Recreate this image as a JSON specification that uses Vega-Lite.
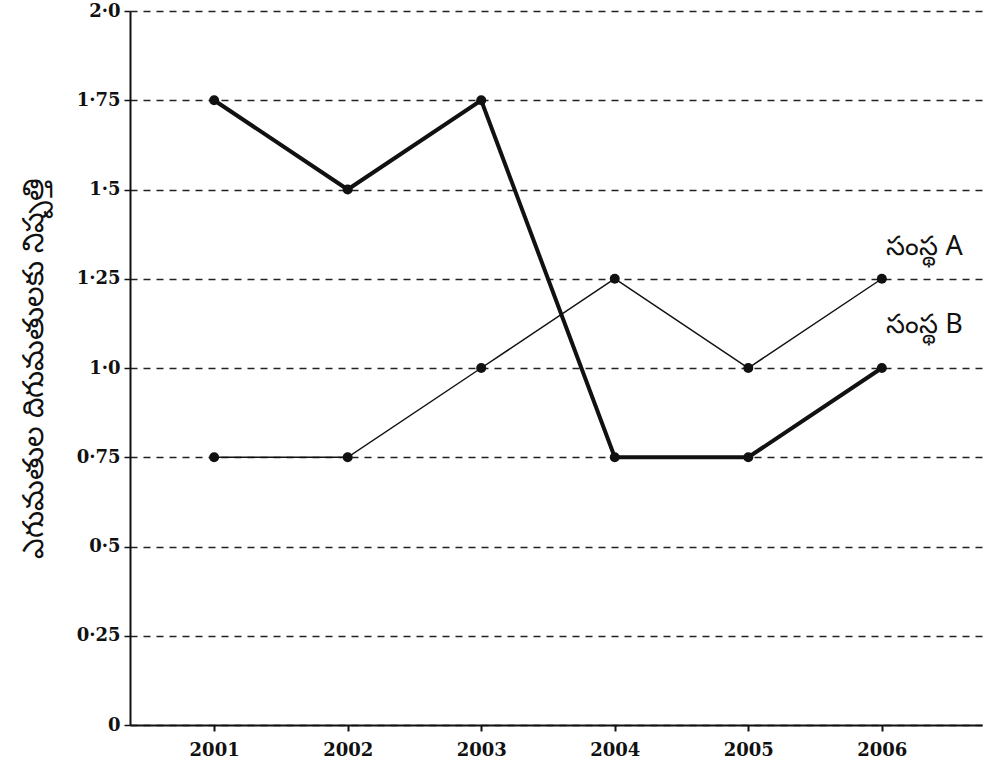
{
  "$schema": "https://vega.github.io/schema/vega-lite/v6.json",
  "width": 852,
  "height": 714,
  "autosize": "none",
  "padding": {"left": 130, "top": 11, "right": 8, "bottom": 55},
  "background": "white",
  "config": {
    "view": {"stroke": null},
    "axis": {"labelFont": "DejaVu Serif", "titleFont": "Noto Sans", "labelColor": "#111", "domainColor": "#111", "tickColor": "#111"}
  },
  "datasets": {
    "series": [
      {"series": "B", "year": 2001, "value": 1.75},
      {"series": "B", "year": 2002, "value": 1.5},
      {"series": "B", "year": 2003, "value": 1.75},
      {"series": "B", "year": 2004, "value": 0.75},
      {"series": "B", "year": 2005, "value": 0.75},
      {"series": "B", "year": 2006, "value": 1.0},
      {"series": "A", "year": 2001, "value": 0.75},
      {"series": "A", "year": 2002, "value": 0.75},
      {"series": "A", "year": 2003, "value": 1.0},
      {"series": "A", "year": 2004, "value": 1.25},
      {"series": "A", "year": 2005, "value": 1.0},
      {"series": "A", "year": 2006, "value": 1.25}
    ],
    "labels": [
      {"label": "సంస్థ A", "year": 2006.32, "value": 1.34},
      {"label": "సంస్థ B", "year": 2006.32, "value": 1.12}
    ]
  },
  "layer": [
    {
      "data": {"name": "series"},
      "mark": {"type": "line", "color": "#111"},
      "encoding": {
        "x": {
          "field": "year", "type": "quantitative",
          "scale": {"domain": [2000.37, 2006.75], "nice": false, "zero": false},
          "axis": {"values": [2001, 2002, 2003, 2004, 2005, 2006], "format": "d", "title": null, "grid": false, "labelFontSize": 18, "labelPadding": 10, "tickSize": 6, "domainWidth": 2, "tickWidth": 2, "labelFontWeight": "bold"}
        },
        "y": {
          "field": "value", "type": "quantitative",
          "scale": {"domain": [0, 2], "nice": false},
          "axis": {
            "values": [0, 0.25, 0.5, 0.75, 1, 1.25, 1.5, 1.75, 2],
            "labelExpr": "datum.value == 0 ? '0' : replace(datum.value % 1 == 0 ? format(datum.value, '.1f') : toString(datum.value), '.', '·')",
            "title": "ఎగుమతుల దిగుమతులకు నిష్పత్తి",
            "titleFontSize": 29, "titleFontWeight": "normal", "titleColor": "#111", "titlePadding": 28,
            "labelFontSize": 18, "labelFontWeight": "bold", "labelPadding": 4, "tickSize": 6, "domainWidth": 2, "tickWidth": 1.5,
            "grid": true, "gridColor": "#222", "gridDash": [7, 6], "gridWidth": 1.6
          }
        },
        "detail": {"field": "series"},
        "strokeWidth": {"field": "series", "type": "nominal", "scale": {"domain": ["A", "B"], "range": [1.5, 4]}, "legend": null}
      }
    },
    {
      "data": {"name": "series"},
      "mark": {"type": "point", "filled": true, "color": "#111", "opacity": 1, "size": 100},
      "encoding": {
        "x": {"field": "year", "type": "quantitative"},
        "y": {"field": "value", "type": "quantitative"}
      }
    },
    {
      "data": {"name": "labels"},
      "mark": {"type": "text", "font": "Noto Sans", "fontSize": 27, "color": "#111"},
      "encoding": {
        "x": {"field": "year", "type": "quantitative"},
        "y": {"field": "value", "type": "quantitative"},
        "text": {"field": "label"}
      }
    }
  ]
}
